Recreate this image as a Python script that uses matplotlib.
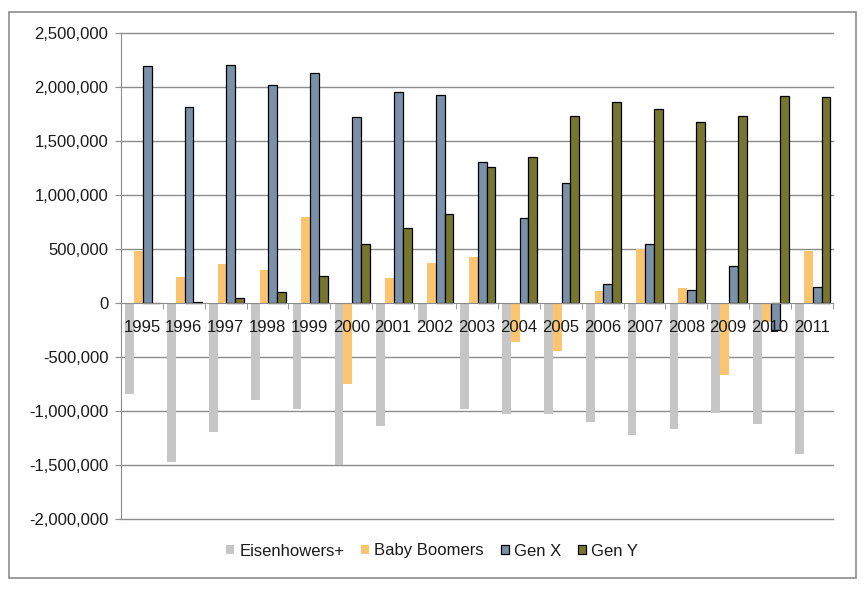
import numpy as np
import matplotlib.pyplot as plt
from matplotlib.patches import Rectangle
from matplotlib.ticker import FuncFormatter, FixedLocator

plt.rcParams['font.family'] = ['Liberation Sans', 'DejaVu Sans']

# data
years = ['1995', '1996', '1997', '1998', '1999', '2000', '2001', '2002', '2003',
         '2004', '2005', '2006', '2007', '2008', '2009', '2010', '2011']
eisenhowers = [-842000, -1469000, -1191000, -895000, -978000, -1503000, -1136000, -185000, -978000,
               -1025000, -1025000, -1099000, -1219000, -1164000, -1016000, -1117000, -1395000]
baby_boomers = [484000, 241000, 361000, 306000, 796000, -750000, 231000, 370000, 426000,
                -358000, -441000, 111000, 500000, 142000, -664000, -175000, 481000]
gen_x = [2191000, 1812000, 2200000, 2015000, 2127000, 1719000, 1951000, 1929000, 1303000,
         787000, 1111000, 173000, 543000, 117000, 340000, -250000, 148000]
gen_y = [0, 6000, 43000, 99000, 247000, 543000, 691000, 821000, 1256000,
         1349000, 1728000, 1858000, 1793000, 1673000, 1728000, 1914000, 1905000]

series = [
    ('Eisenhowers+', eisenhowers, '#C6C6C6', 'none'),
    ('Baby Boomers', baby_boomers, '#FBC471', 'none'),
    ('Gen X', gen_x, '#7B91A9', 'black'),
    ('Gen Y', gen_y, '#76762E', 'black'),
]

fig = plt.figure(figsize=(8.64, 5.92), dpi=100)
ax = fig.add_axes([0.140, 0.1233, 0.824, 0.821])

x = np.arange(len(years))
w = 0.21
for k, (name, vals, col, ec) in enumerate(series):
    ax.bar(x + (k - 1.5) * w + 0.02, vals, width=w, color=col,
           edgecolor=ec, linewidth=0.9 if ec != 'none' else 0, label=name, zorder=1.2)

# gridlines, behind the bars
yticks = np.arange(-2000000, 2500001, 500000)
for yv in yticks:
    if yv != 0:
        ax.axhline(yv, color='#8C8C8C', linewidth=1.0, zorder=0.5, clip_on=False)

ax.set_ylim(-2000000, 2500000)
ax.set_xlim(-0.5, len(years) - 0.5)
ax.set_yticks(yticks)
ax.yaxis.set_major_formatter(FuncFormatter(lambda v, p: f'{int(v):,}'))

ax.spines['top'].set_visible(False)
ax.spines['right'].set_visible(False)
ax.spines['left'].set_color('#8C8C8C')
ax.spines['bottom'].set_position(('data', 0))
ax.spines['bottom'].set_color('#8C8C8C')
ax.spines['bottom'].set_zorder(3)

ax.set_xticks(x)
ax.set_xticklabels(years)
ax.xaxis.set_minor_locator(FixedLocator(np.arange(-0.5, len(years), 1.0)))
ax.tick_params(axis='x', which='major', length=0, pad=12, labelsize=12, labelcolor='#1a1a1a')
ax.tick_params(axis='x', which='minor', length=4, direction='out', color='#8C8C8C')
ax.tick_params(axis='y', length=4, color='#8C8C8C', labelsize=12, labelcolor='#1a1a1a', pad=5)

leg = fig.legend(loc='center', bbox_to_anchor=(432 / 864, 1 - 551 / 592), ncol=4,
                 frameon=False, fontsize=12, handlelength=0.5, handleheight=0.5,
                 handletextpad=0.3, columnspacing=1.0)
for t in leg.get_texts():
    t.set_color('#1a1a1a')

# outer chart frame
fig.patches.append(Rectangle((9 / 864, 1 - 578 / 592), 847 / 864, 566 / 592,
                             transform=fig.transFigure, fill=False,
                             edgecolor='#8C8C8C', linewidth=1.2))

fig.savefig('out.png', dpi=100)
